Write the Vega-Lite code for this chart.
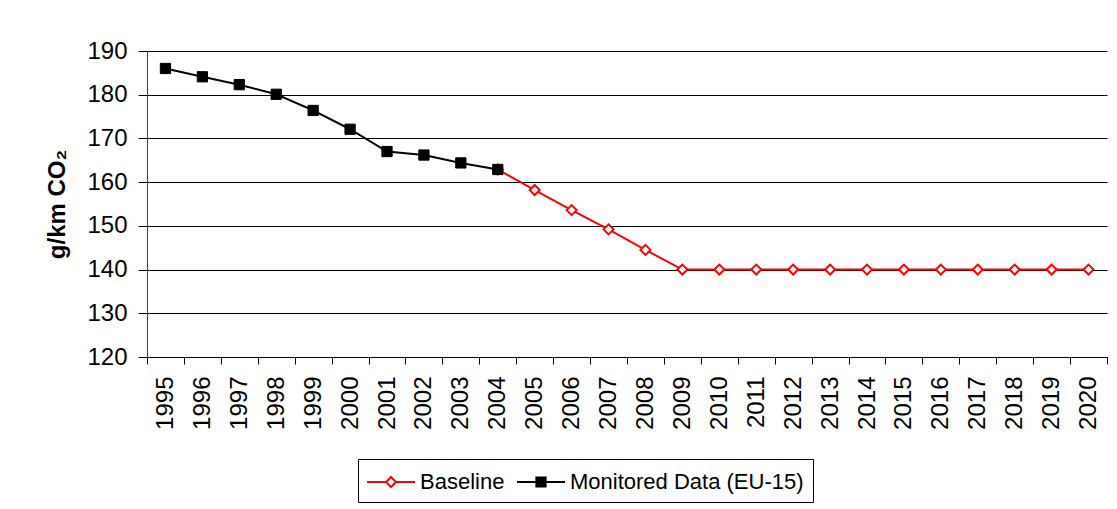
{
  "$schema": "https://vega.github.io/schema/vega-lite/v6.json",
  "width": 960,
  "height": 306,
  "autosize": {"type": "none"},
  "padding": {"left": 147, "top": 51, "right": 10, "bottom": 152},
  "background": "white",
  "config": {
    "font": "Liberation Sans",
    "view": {"stroke": null}
  },
  "data": {
    "values": [
      {"year": "2004", "series": "Baseline", "value": 162.9},
      {"year": "2005", "series": "Baseline", "value": 158.2},
      {"year": "2006", "series": "Baseline", "value": 153.6},
      {"year": "2007", "series": "Baseline", "value": 149.2},
      {"year": "2008", "series": "Baseline", "value": 144.5},
      {"year": "2009", "series": "Baseline", "value": 140.0},
      {"year": "2010", "series": "Baseline", "value": 140.0},
      {"year": "2011", "series": "Baseline", "value": 140.0},
      {"year": "2012", "series": "Baseline", "value": 140.0},
      {"year": "2013", "series": "Baseline", "value": 140.0},
      {"year": "2014", "series": "Baseline", "value": 140.0},
      {"year": "2015", "series": "Baseline", "value": 140.0},
      {"year": "2016", "series": "Baseline", "value": 140.0},
      {"year": "2017", "series": "Baseline", "value": 140.0},
      {"year": "2018", "series": "Baseline", "value": 140.0},
      {"year": "2019", "series": "Baseline", "value": 140.0},
      {"year": "2020", "series": "Baseline", "value": 140.0},
      {"year": "1995", "series": "Monitored Data (EU-15)", "value": 186.0},
      {"year": "1996", "series": "Monitored Data (EU-15)", "value": 184.1},
      {"year": "1997", "series": "Monitored Data (EU-15)", "value": 182.3},
      {"year": "1998", "series": "Monitored Data (EU-15)", "value": 180.1},
      {"year": "1999", "series": "Monitored Data (EU-15)", "value": 176.4},
      {"year": "2000", "series": "Monitored Data (EU-15)", "value": 172.1},
      {"year": "2001", "series": "Monitored Data (EU-15)", "value": 167.0},
      {"year": "2002", "series": "Monitored Data (EU-15)", "value": 166.2},
      {"year": "2003", "series": "Monitored Data (EU-15)", "value": 164.4},
      {"year": "2004", "series": "Monitored Data (EU-15)", "value": 162.9}
    ]
  },
  "encoding": {
    "x": {
      "field": "year",
      "type": "ordinal",
      "bandPosition": 0.5,
      "sort": "ascending",
      "scale": {"type": "band", "paddingInner": 0, "paddingOuter": 0},
      "axis": {
        "title": null,
        "labelAngle": 270,
        "labelFontSize": 24,
        "labelColor": "black",
        "labelPadding": 12,
        "tickBand": "extent",
        "tickSize": 7,
        "tickColor": "black",
        "domainColor": "black",
        "grid": false
      }
    },
    "y": {
      "field": "value",
      "type": "quantitative",
      "scale": {"domain": [120, 190], "nice": false, "zero": false},
      "axis": {
        "values": [120, 130, 140, 150, 160, 170, 180, 190],
        "title": "g/km CO₂",
        "titleFontSize": 24,
        "titleFontWeight": "bold",
        "titleColor": "black",
        "titleX": -90,
        "titleY": 153,
        "titleBaseline": "middle",
        "titleAlign": "center",
        "titleAngle": 270,
        "labelFontSize": 24,
        "labelColor": "black",
        "labelPadding": 11,
        "tickSize": 9,
        "tickColor": "black",
        "domainColor": "#404040",
        "grid": true,
        "gridColor": "black",
        "gridOpacity": 1,
        "gridWidth": 1
      }
    }
  },
  "layer": [
    {
      "transform": [{"filter": "datum.value < 0"}],
      "mark": {"type": "point", "filled": false, "strokeWidth": 2, "size": 676, "opacity": 1},
      "encoding": {
        "color": {
          "field": "series",
          "type": "nominal",
          "scale": {"domain": ["Baseline", "Monitored Data (EU-15)"], "range": ["#ff0000", "#000000"]},
          "legend": {
            "title": null,
            "orient": "none",
            "legendX": 211,
            "legendY": 408,
            "direction": "horizontal",
            "strokeColor": "black",
            "fillColor": "white",
            "padding": 9,
            "labelFontSize": 22,
            "labelColor": "black",
            "labelLimit": 500,
            "labelOffset": 15,
            "symbolOffset": 10,
            "columnPadding": 8,
            "symbolSize": 676,
            "symbolStrokeWidth": 2,
            "symbolOpacity": 1
          }
        },
        "fill": {
          "field": "series",
          "type": "nominal",
          "scale": {"domain": ["Baseline", "Monitored Data (EU-15)"], "range": ["white", "black"]}
        },
        "shape": {
          "field": "series",
          "type": "nominal",
          "scale": {
            "domain": ["Baseline", "Monitored Data (EU-15)"],
            "range": [
              "M-1.846,0L-0.385,0M0.385,0L1.846,0M0,-0.385L0.385,0L0,0.385L-0.385,0Z",
              "M-1.846,0L-0.354,0M0.354,0L1.846,0M-0.354,-0.354L0.354,-0.354L0.354,0.354L-0.354,0.354Z"
            ]
          }
        }
      }
    },
    {
      "mark": {"type": "line", "strokeWidth": 2},
      "encoding": {
        "color": {"field": "series", "type": "nominal"}
      }
    },
    {
      "transform": [{"filter": "datum.series === 'Baseline'"}],
      "mark": {"type": "point", "shape": "diamond", "fill": "white", "stroke": "#ff0000", "strokeWidth": 2, "size": 100, "opacity": 1}
    },
    {
      "transform": [{"filter": "datum.series !== 'Baseline'"}],
      "mark": {"type": "point", "shape": "square", "fill": "black", "stroke": "black", "strokeWidth": 1, "size": 105, "opacity": 1}
    }
  ]
}
